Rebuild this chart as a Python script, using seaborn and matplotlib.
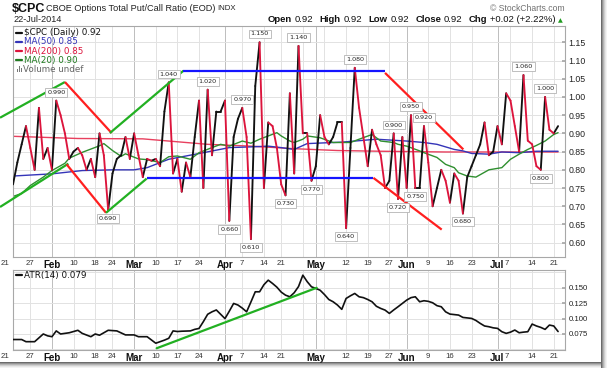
import numpy as np
import pandas as pd
import matplotlib
matplotlib.use("Agg")
import matplotlib.pyplot as plt
import seaborn as sns
from matplotlib.lines import Line2D
from matplotlib.patches import Rectangle
from matplotlib.transforms import ScaledTranslation

W, H, DPI = 609, 368, 100

# ---------------- data (trading-day index 0 = 21-Jan-2014) ----------------
cpc_close = [0.76, 0.82, 0.87, 0.92, 0.86, 0.80, 0.97, 0.83, 0.86, 0.80,
             0.99, 0.95, 0.90, 0.83, 0.85, 0.86, 0.84, 0.80, 0.83, 0.78,
             0.90, 0.84, 0.69, 0.79, 0.83, 0.84, 0.89, 0.83, 0.90, 0.84,
             0.78, 0.83, 0.825, 0.83, 0.81, 0.96, 1.04, 0.79, 0.83, 0.74,
             0.82, 0.78, 0.89, 0.99, 0.75, 1.02, 0.84, 0.96, 0.96, 0.99,
             0.66, 0.89, 0.94, 0.97, 0.89, 0.61, 1.03, 1.15, 0.75, 0.93,
             0.92, 0.86, 0.76, 0.73, 1.01, 0.79, 1.14, 0.90, 0.90, 0.77,
             0.81, 0.95, 0.89, 0.87, 0.89, 0.93, 0.93, 0.64, 0.86, 1.08,
             0.97, 0.89, 0.81, 0.91, 0.87, 0.84, 0.75, 0.77, 0.90, 0.72,
             0.89, 0.75, 0.95, 0.75, 0.75, 0.92, 0.82, 0.70, 0.75, 0.80,
             0.77, 0.71, 0.79, 0.77, 0.68, 0.78, 0.81, 0.84, 0.87, 0.93,
             0.84, 0.85, 0.92, 0.87, 1.01, 0.99, 0.92, 0.85, 1.06, 0.88,
             0.87, 0.81, 0.80, 1.00, 0.91, 0.90, 0.92]

ma20_day = [0, 2, 4, 7, 9, 12, 13, 16, 18, 20,
            21, 23, 25, 26, 29, 31, 34, 36, 38, 41,
            43, 46, 48, 50, 53, 55, 57, 59, 61, 62,
            64, 65, 67, 68, 71, 74, 78, 80, 83, 85,
            88, 89, 91, 94, 95, 98, 100, 102, 103, 105,
            107, 110, 113, 115, 117, 119, 121, 123, 125, 126]
ma20_val = [0.727, 0.735, 0.757, 0.780, 0.798, 0.818, 0.832, 0.848, 0.857, 0.866,
            0.872, 0.853, 0.837, 0.844, 0.830, 0.828, 0.820, 0.836, 0.838, 0.829,
            0.847, 0.861, 0.870, 0.865, 0.879, 0.873, 0.884, 0.893, 0.902, 0.893,
            0.879, 0.875, 0.884, 0.893, 0.888, 0.875, 0.875, 0.884, 0.897, 0.879,
            0.875, 0.870, 0.865, 0.852, 0.847, 0.834, 0.815, 0.806, 0.792, 0.783,
            0.780, 0.800, 0.806, 0.829, 0.843, 0.856, 0.867, 0.879, 0.897, 0.902]

ma50_day = [0, 9, 16, 23, 28, 31, 36, 44, 50, 55,
            59, 62, 65, 68, 76, 84, 91, 95, 98, 102,
            104, 106, 110, 113, 117, 121, 126]
ma50_val = [0.783, 0.789, 0.798, 0.800, 0.800, 0.806, 0.829, 0.847, 0.861, 0.863,
            0.865, 0.861, 0.856, 0.872, 0.876, 0.884, 0.879, 0.875, 0.870, 0.856,
            0.852, 0.845, 0.843, 0.849, 0.847, 0.851, 0.851]

ma200_day = [0, 15, 30, 45, 55, 65, 75, 85, 100, 126]
ma200_val = [0.892, 0.886, 0.885, 0.870, 0.865, 0.858, 0.853, 0.851, 0.849, 0.849]

atr_day = [0, 2, 3, 5, 7, 8, 9, 10, 11, 13,
           15, 16, 18, 19, 20, 21, 22, 24, 26, 28,
           29, 31, 33, 34, 35, 36, 37, 38, 39, 41,
           42, 43, 44, 45, 46, 47, 48, 49, 50, 51,
           52, 53, 54, 55, 56, 57, 58, 59, 60, 61,
           62, 63, 64, 65, 66, 67, 68, 69, 70, 71,
           72, 73, 74, 75, 76, 77, 78, 79, 80, 81,
           82, 83, 84, 85, 86, 87, 88, 89, 90, 91,
           92, 93, 94, 95, 96, 97, 98, 99, 100, 101,
           102, 103, 104, 106, 107, 108, 109, 110, 111, 112,
           113, 114, 115, 116, 117, 118, 119, 120, 121, 122,
           123, 124, 125, 126]
atr_val = [0.066, 0.066, 0.0625, 0.0625, 0.075, 0.072, 0.0706, 0.080, 0.075, 0.077,
           0.081, 0.076, 0.0706, 0.075, 0.073, 0.077, 0.081, 0.080, 0.0735, 0.0735,
           0.0706, 0.0706, 0.060, 0.0625, 0.065, 0.068, 0.080, 0.079, 0.0795, 0.080,
           0.0825, 0.084, 0.095, 0.107, 0.111, 0.114, 0.107, 0.100, 0.112, 0.1246,
           0.122, 0.117, 0.111, 0.127, 0.1435, 0.1435, 0.155, 0.1624, 0.157, 0.151,
           0.143, 0.138, 0.1354, 0.142, 0.152, 0.1705, 0.160, 0.1516, 0.149, 0.146,
           0.139, 0.131, 0.1273, 0.122, 0.115, 0.1327, 0.137, 0.1408, 0.1354, 0.134,
           0.131, 0.1273, 0.120, 0.1165, 0.1138, 0.1084, 0.114, 0.1192, 0.1246, 0.130,
           0.134, 0.1354, 0.1273, 0.129, 0.128, 0.1257, 0.121, 0.1192, 0.111, 0.1073,
           0.1065, 0.1057, 0.1019, 0.1003, 0.097, 0.0922, 0.088, 0.0868, 0.085, 0.0841,
           0.0787, 0.076, 0.078, 0.0814, 0.077, 0.078, 0.0787, 0.0911, 0.088, 0.0857,
           0.0825, 0.0895, 0.088, 0.079]

tick_day = [0, 4, 9, 14, 19, 23, 28, 33, 38, 43, 49, 53, 58, 62,
            70, 77, 82, 87, 91, 96, 101, 106, 112, 115, 120, 125]
tick_label = ['21', '27', 'Feb', '10', '18', '24', 'Mar', '10', '17', '24', 'Apr', '7', '14', '21',
              'May', '12', '19', '27', 'Jun', '9', '16', '23', 'Jul', '7', '14', '21']
month_label = ['Feb', 'Mar', 'Apr', 'May', 'Jun', 'Jul']
extra_grid_day = [67, 72]

main_yticks = [0.60, 0.65, 0.70, 0.75, 0.80, 0.85, 0.90, 0.95, 1.00, 1.05, 1.10, 1.15]
atr_yticks = [0.075, 0.100, 0.125, 0.150]
atr_grid = [0.050, 0.075, 0.100, 0.125, 0.150, 0.175]

label_day = [10, 22, 36, 45, 50, 53, 55, 57, 63, 66, 69, 77, 79,
             88, 89, 92, 93, 95, 104, 118, 122, 123]
label_side = ['up', 'dn', 'up', 'up', 'dn', 'up', 'dn', 'up', 'dn', 'up', 'dn', 'dn', 'up',
              'up', 'dn', 'up', 'dn', 'up', 'dn', 'up', 'dn', 'up']

trend_x0 = [-3.0, 12.0, -3.0, 12.4, 21.5, 30.9, 22.4, 39.4, 86.0, 83.3]
trend_y0 = [0.943, 1.041, 0.698, 0.815, 0.682, 0.777, 0.901, 1.072, 1.066, 0.778]
trend_x1 = [12.0, 22.8, 12.8, 21.5, 30.9, 83.3, 39.4, 86.0, 104.1, 99.1]
trend_y1 = [1.041, 0.901, 0.817, 0.682, 0.776, 0.777, 1.072, 1.072, 0.856, 0.636]
trend_col = ['g', 'r', 'g', 'r', 'g', 'b', 'g', 'b', 'r', 'r']
atr_trend_x = [33.2, 70.2]
atr_trend_y = [0.0518, 0.150]

header_words = ['Open', '0.92', 'High', '0.92', 'Low', '0.92', 'Close', '0.92', 'Chg',
                '+0.02 (+2.22%)']

# ---------------- styling ----------------
sns.set_theme(style="white")
plt.rcParams['font.family'] = ['DejaVu Sans']
SANS = ['Liberation Sans', 'DejaVu Sans']

C_UP, C_DN = '#111111', '#dc143c'
C_MA50, C_MA200, C_MA20 = '#3434b8', '#e8405e', '#2f8f2f'
TREND = {'g': '#22b022', 'r': '#ff1f1f', 'b': '#1414ff'}
GRID_W, GRID_M, FRAME = '#e2e2e2', '#bdbdbd', '#a8a8a8'

fig = plt.figure(figsize=(W / DPI, H / DPI), dpi=DPI)
fig.patch.set_facecolor('white')


def fx(x):
    return x / W


def fy(y):
    return 1 - y / H


ax1 = fig.add_axes([fx(13), fy(257), fx(565) - fx(13), fy(26) - fy(257)])
ax2 = fig.add_axes([fx(13), fy(350), fx(565) - fx(13), fy(269.5) - fy(350)])

XMIN, XMAX = 0, 127.6
month_days = [d for d, l in zip(tick_day, tick_label) if l in month_label]
for ax in (ax1, ax2):
    ax.set_facecolor('white')
    ax.set_xlim(XMIN, XMAX)
    for s in ax.spines.values():
        s.set_color(FRAME)
        s.set_linewidth(0.8)
    for d in sorted(tick_day + extra_grid_day):
        ax.axvline(d, color=GRID_M if d in month_days else GRID_W, lw=0.7, zorder=0)

ax1.set_ylim(0.5608, 1.1947)
ax2.set_ylim(0.049, 0.1797)
for v in main_yticks:
    ax1.axhline(v, color=GRID_W, lw=0.7, zorder=0)
for v in atr_grid:
    ax2.axhline(v, color=GRID_W, lw=0.7, zorder=0)

# moving averages
sns.lineplot(x=ma200_day, y=ma200_val, ax=ax1, color=C_MA200, lw=1.0, zorder=2)
sns.lineplot(x=ma50_day, y=ma50_val, ax=ax1, color=C_MA50, lw=1.0, zorder=2)
sns.lineplot(x=ma20_day, y=ma20_val, ax=ax1, color=C_MA20, lw=1.0, zorder=2)

# price line coloured by direction
days = np.arange(len(cpc_close))
rows = []
for k in range(len(cpc_close) - 1):
    d = 'up' if cpc_close[k + 1] >= cpc_close[k] else 'down'
    rows.append((k, days[k], cpc_close[k], d))
    rows.append((k, days[k + 1], cpc_close[k + 1], d))
seg = pd.DataFrame(rows, columns=['seg', 'day', 'val', 'dir'])
sns.lineplot(data=seg, x='day', y='val', units='seg', hue='dir', estimator=None,
             palette={'up': C_UP, 'down': C_DN}, lw=1.35, legend=False, sort=False,
             ax=ax1, zorder=3)

# trend lines
for x0, y0, x1, y1, c in zip(trend_x0, trend_y0, trend_x1, trend_y1, trend_col):
    ax1.plot([x0, x1], [y0, y1], color=TREND[c], lw=1.6, zorder=5, clip_on=False,
             solid_capstyle='butt')

# value labels
for d, side in zip(label_day, label_side):
    v = cpc_close[d]
    off = 4.2 if side == 'up' else -4.2
    ax1.annotate(f"{v:.3f}", xy=(d, v), xytext=(0, off), textcoords='offset points',
                 ha='center', va='bottom' if side == 'up' else 'top', fontsize=4.6,
                 color='#222222', zorder=7,
                 bbox=dict(boxstyle='square,pad=0.3', fc='white', ec='#b4b4b4', lw=0.6))

# ATR
sns.lineplot(x=atr_day, y=atr_val, ax=ax2, color='#111111', lw=1.2, zorder=3)
ax2.plot(atr_trend_x, atr_trend_y, color=TREND['g'], lw=1.6, zorder=4)

# axes ticks
for ax, ticks, fmt, fs in ((ax1, main_yticks, '{:.2f}', 6.3), (ax2, atr_yticks, '{:.3f}', 5.6)):
    ax.yaxis.tick_right()
    ax.set_yticks(ticks)
    ax.set_yticklabels([fmt.format(t) for t in ticks], fontsize=fs, color='#222222',
                       family=SANS)
    ax.tick_params(axis='y', direction='in', length=2, color=FRAME, pad=2.5)
    ax.set_xticks(tick_day)
    ax.set_xticklabels(tick_label, family=SANS)
    ax.tick_params(axis='x', length=0, pad=2.2)
    for lbl in ax.get_xticklabels():
        if lbl.get_text() in month_label:
            lbl.set_fontweight('bold')
            lbl.set_fontsize(7)
            lbl.set_color('#111111')
        else:
            lbl.set_fontsize(5.6)
            lbl.set_color('#333333')
    labs = ax.get_xticklabels()
    labs[0].set_transform(labs[0].get_transform() + ScaledTranslation(-0.08, 0, fig.dpi_scale_trans))
    labs[23].set_transform(labs[23].get_transform() + ScaledTranslation(-0.04, 0, fig.dpi_scale_trans))
    ax.set_xlabel('')
    ax.set_ylabel('')

# ---------------- header texts ----------------
fig.text(fx(11.5), fy(8.6), '$CPC', fontsize=9.0, fontweight='bold', family=SANS,
         va='center', ha='left', color='#111111')
fig.text(fx(46.5), fy(8.8), 'CBOE Options Total Put/Call Ratio (EOD)', fontsize=6.6,
         family=SANS, va='center', ha='left', color='#222222')
fig.text(fx(217), fy(8.8), 'INDX', fontsize=5.6, family=SANS, va='center', ha='left',
         color='#222222')
fig.text(fx(13), fy(20), '22-Jul-2014', fontsize=6.6, family=SANS, va='center', ha='left',
         color='#222222')
fig.text(fx(565), fy(8.6), '\u00a9 StockCharts.com', fontsize=6.2, family=SANS,
         va='center', ha='right', color='#707070')

# right header: laid out by measured widths, right edge at x=556 px
renderer = fig.canvas.get_renderer()
pieces = []
for k, t in enumerate(header_words):
    bold = (k % 2 == 0)
    tt = fig.text(0, fy(20), t, fontsize=6.8, fontweight='bold' if bold else 'normal',
                  family=SANS, va='center', ha='left', color='#111111')
    wpx = tt.get_window_extent(renderer=renderer).width
    gap = 2.8 if bold else 6.5
    pieces.append((tt, wpx, gap))
total = sum(p[1] + p[2] for p in pieces) - pieces[-1][2]
x = 556 - total
for tt, wpx, gap in pieces:
    tt.set_x(fx(x))
    x += wpx + gap
fig.text(fx(558), fy(20.5), '\u25b2', fontsize=4.5, color='#1f9a1f', va='center', ha='left')

# legend inside main panel
leg = [('$CPC (Daily) 0.92', '#111111', 32.7), ('MA(50) 0.85', C_MA50, 41.9),
       ('MA(200) 0.85', C_DN, 51.1), ('MA(20) 0.90', '#1f7a1f', 60.3)]
for t, c, y in leg:
    fig.add_artist(Line2D([fx(16), fx(22)], [fy(y), fy(y)], transform=fig.transFigure,
                          color=c, lw=1.6))
    fig.text(fx(24.5), fy(y), t, fontsize=6.3, color=c, va='center', ha='left')
for bx, bh in ((16.5, 3.5), (18.5, 5.5), (20.5, 4.5)):
    fig.add_artist(Rectangle((fx(bx), fy(72)), fx(1.4), bh / H, transform=fig.transFigure,
                             color='#777777', lw=0))
fig.text(fx(23), fy(69.4), 'Volume undef', fontsize=6.3, color='#666666', va='center',
         ha='left')

fig.add_artist(Line2D([fx(16), fx(22)], [fy(275.3), fy(275.3)], transform=fig.transFigure,
                      color='#111111', lw=1.6))
fig.text(fx(24.5), fy(275.3), 'ATR(14) 0.079', fontsize=6.3, color='#111111', va='center',
         ha='left')

# drop shadow of the chart image
for k, a in enumerate([0.75, 0.55, 0.38, 0.24, 0.13, 0.06]):
    fig.add_artist(Rectangle((fx(601 + k), fy(368)), 1 / W, 1, transform=fig.transFigure,
                             color='#3a3a3a', alpha=a, lw=0))
    fig.add_artist(Rectangle((0, fy(363 + k)), fx(601), 1 / H, transform=fig.transFigure,
                             color='#3a3a3a', alpha=a, lw=0))

fig.savefig('out.png', dpi=DPI)
